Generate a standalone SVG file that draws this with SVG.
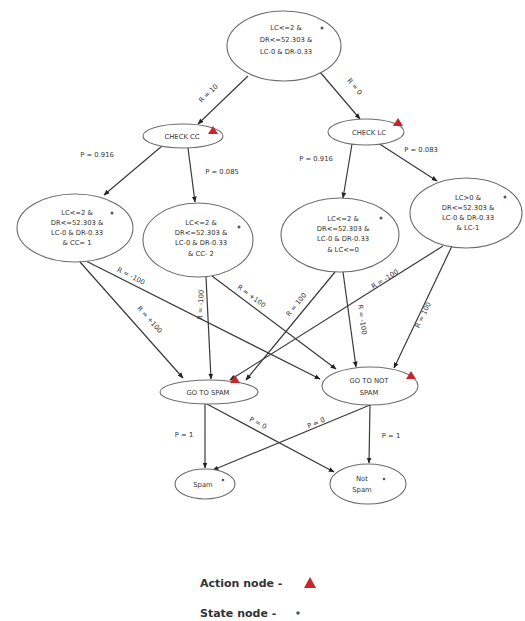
<svg xmlns="http://www.w3.org/2000/svg" width="525" height="621" viewBox="0 0 525 621">
<style>
.n{fill:#fff;stroke:#6d6d6d;stroke-width:1.1}
.t{font-family:"DejaVu Sans",Verdana,sans-serif;font-size:6.8px;fill:#333;text-anchor:middle}
.l{font-family:"DejaVu Sans",Verdana,sans-serif;font-size:6.8px;fill:#333;text-anchor:middle}
.e{stroke:#3a3a3a;stroke-width:1.2;fill:none;marker-end:url(#a)}
.tri{fill:#c8252c}
.dot{fill:#4a5a70}
.lg{font-family:"DejaVu Sans",Verdana,sans-serif;font-size:11px;font-weight:bold;fill:#333}
</style>
<defs>
<marker id="a" viewBox="0 0 10 10" refX="9" refY="5" markerWidth="5" markerHeight="5" orient="auto">
<path d="M0,1 L10,5 L0,9 z" fill="#222"/>
</marker>
</defs>
<rect width="525" height="621" fill="#fff"/>
<g id="connectors">
<line class="e" x1="248" y1="76" x2="198" y2="124"/>
<line class="e" x1="320" y1="72" x2="360" y2="119"/>
<line class="e" x1="162" y1="146" x2="104" y2="195"/>
<line class="e" x1="188" y1="148" x2="195" y2="202"/>
<line class="e" x1="352" y1="144" x2="343" y2="198"/>
<line class="e" x1="378" y1="143" x2="437" y2="181"/>
<line class="e" x1="80" y1="262" x2="183" y2="378"/>
<line class="e" x1="86" y1="261" x2="320" y2="379"/>
<line class="e" x1="206" y1="277" x2="211" y2="379"/>
<line class="e" x1="212" y1="276" x2="336" y2="369"/>
<line class="e" x1="335" y1="272" x2="246" y2="380"/>
<line class="e" x1="343" y1="272" x2="356" y2="367"/>
<line class="e" x1="443" y1="246" x2="230" y2="380"/>
<line class="e" x1="452" y1="246" x2="394" y2="368"/>
<line class="e" x1="205" y1="403" x2="205" y2="468"/>
<line class="e" x1="205" y1="403" x2="334" y2="472"/>
<line class="e" x1="370" y1="405" x2="213" y2="470"/>
<line class="e" x1="370" y1="405" x2="369" y2="463"/>
<g class="l">
<text transform="translate(210,95) rotate(-44)">R = 10</text>
<text transform="translate(353,88) rotate(50)">R = 0</text>
<text x="97" y="157">P = 0.916</text>
<text x="222" y="174">P = 0.085</text>
<text x="316" y="161">P = 0.916</text>
<text x="421" y="152">P = 0.083</text>
<text transform="translate(148,321) rotate(48)">R = +100</text>
<text transform="translate(130,278) rotate(27)">R = -100</text>
<text transform="translate(203,305) rotate(-87)">R = -100</text>
<text transform="translate(250,298) rotate(37)">R = +100</text>
<text transform="translate(298,306) rotate(-51)">R = 100</text>
<text transform="translate(360,320) rotate(82)">R = -100</text>
<text transform="translate(386,281) rotate(-32)">R = -100</text>
<text transform="translate(425,316) rotate(-64)">R = 100</text>
<text x="184" y="437">P = 1</text>
<text transform="translate(257,425) rotate(28)">P = 0</text>
<text transform="translate(317,425) rotate(-23)">P = 0</text>
<text x="391" y="438">P = 1</text>
</g>
</g>
<g id="top">
<ellipse class="n" cx="284" cy="46" rx="57" ry="35"/>
<text class="t" x="286" y="30">LC&lt;=2 &amp;</text>
<text class="t" x="286" y="42">DR&lt;=52.303 &amp;</text>
<text class="t" x="286" y="54">LC-0 &amp; DR-0.33</text>
<circle class="dot" cx="322" cy="28" r="1.5"/>
</g>
<g id="check-cc">
<ellipse class="n" cx="183" cy="136" rx="40" ry="12"/>
<text class="t" x="182" y="139">CHECK CC</text>
<path class="tri" d="M213,126 L218,134 L208,134 z"/>
</g>
<g id="check-lc">
<ellipse class="n" cx="366" cy="132" rx="38" ry="13"/>
<text class="t" x="369" y="135">CHECK LC</text>
<path class="tri" d="M398,118 L403,126 L393,126 z"/>
</g>
<g id="n1">
<ellipse class="n" cx="75" cy="228" rx="58" ry="34"/>
<text class="t" x="77" y="215">LC&lt;=2 &amp;</text>
<text class="t" x="77" y="225">DR&lt;=52.303 &amp;</text>
<text class="t" x="77" y="235">LC-0 &amp; DR-0.33</text>
<text class="t" x="77" y="245">&amp; CC= 1</text>
<circle class="dot" cx="112" cy="213" r="1.5"/>
</g>
<g id="n2">
<ellipse class="n" cx="198" cy="240" rx="55" ry="37"/>
<text class="t" x="201" y="225">LC&lt;=2 &amp;</text>
<text class="t" x="201" y="235">DR&lt;=52.303 &amp;</text>
<text class="t" x="201" y="245">LC-0 &amp; DR-0.33</text>
<text class="t" x="201" y="256">&amp; CC- 2</text>
<circle class="dot" cx="239" cy="227" r="1.5"/>
</g>
<g id="n3">
<ellipse class="n" cx="340" cy="235" rx="59" ry="37"/>
<text class="t" x="343" y="221">LC&lt;=2 &amp;</text>
<text class="t" x="343" y="231">DR&lt;=52.303 &amp;</text>
<text class="t" x="343" y="241">LC-0 &amp; DR-0.33</text>
<text class="t" x="343" y="252">&amp; LC&lt;=0</text>
<circle class="dot" cx="381" cy="218" r="1.5"/>
</g>
<g id="n4">
<ellipse class="n" cx="466" cy="213" rx="56" ry="35"/>
<text class="t" x="468" y="200">LC&gt;0 &amp;</text>
<text class="t" x="468" y="210">DR&lt;=52.303 &amp;</text>
<text class="t" x="468" y="220">LC-0 &amp; DR-0.33</text>
<text class="t" x="468" y="230">&amp; LC-1</text>
<circle class="dot" cx="505" cy="197" r="1.5"/>
</g>
<g id="go-spam">
<ellipse class="n" cx="209" cy="392" rx="49" ry="12"/>
<text class="t" x="208" y="395">GO TO SPAM</text>
<path class="tri" d="M235,375 L240,383 L230,383 z"/>
</g>
<g id="go-not-spam">
<ellipse class="n" cx="370" cy="386" rx="48" ry="19"/>
<text class="t" x="369" y="383">GO TO NOT</text>
<text class="t" x="369" y="395">SPAM</text>
<path class="tri" d="M411,371 L416,379 L406,379 z"/>
</g>
<g id="spam">
<ellipse class="n" cx="205" cy="484" rx="30" ry="15"/>
<text class="t" x="203" y="487">Spam</text>
<circle class="dot" cx="223" cy="480" r="1.3"/>
</g>
<g id="not-spam">
<ellipse class="n" cx="368" cy="484" rx="38" ry="20"/>
<text class="t" x="362" y="481">Not</text>
<text class="t" x="362" y="492">Spam</text>
<circle class="dot" cx="384" cy="479" r="1.3"/>
</g>
<g id="legend">
<text class="lg" x="200" y="587">Action node -</text>
<path class="tri" d="M310,577 L316,588 L304,588 z"/>
<text class="lg" x="200" y="617">State node -</text>
<circle class="dot" cx="298" cy="613" r="1.8"/>
</g>
</svg>
